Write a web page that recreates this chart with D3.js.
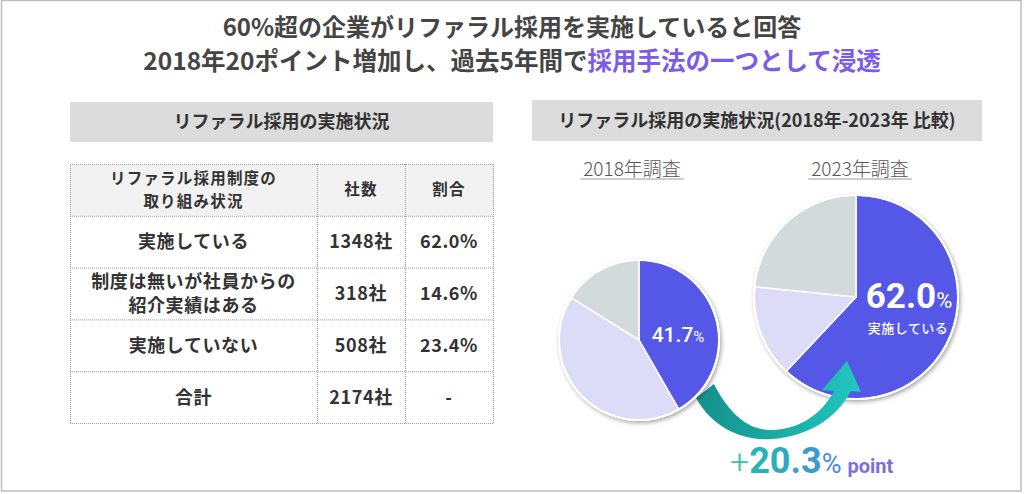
<!DOCTYPE html>
<html>
<head>
<meta charset="utf-8">
<script src="https://cdn.jsdelivr.net/npm/d3@7"></script>
<style>
  body { margin: 0; background: #fff; }
  svg { display: block; font-family: "Noto Sans CJK JP", "Noto Sans", sans-serif; }
</style>
</head>
<body>
<svg id="chart" width="1024" height="494" viewBox="0 0 1024 494"></svg>
<script>
// ---- data ----
const titleLine1 = "60%超の企業がリファラル採用を実施していると回答";
const titleLine2a = "2018年20ポイント増加し、過去5年間で";
const titleLine2b = "採用手法の一つとして浸透";

const tableTitle = "リファラル採用の実施状況";
const tableHeaders = [["リファラル採用制度の", "取り組み状況"], ["社数"], ["割合"]];
const categories = [["実施している"], ["制度は無いが社員からの", "紹介実績はある"], ["実施していない"], ["合計"]];
const companyCounts = [1348, 318, 508, 2174];
const shareLabels = ["62.0%", "14.6%", "23.4%", "-"];

const pieTitle = "リファラル採用の実施状況(2018年-2023年 比較)";
const surveyYears = ["2018年調査", "2023年調査"];
const shares2018 = [41.7, 42.2, 16.1];
const shares2023 = [62.0, 14.6, 23.4];
const sliceColors = ["#5557e7", "#dcdcf8", "#d3dadc"];

const svg = d3.select("#chart");
const W = 1024, H = 494;

// frame
svg.append("rect")
    .attr("x", 1.5).attr("y", 0.5)
    .attr("width", 1019.5).attr("height", 490.5)
    .attr("fill", "none").attr("stroke", "#bdbdbd").attr("stroke-width", 1.5);

// defs
const defs = svg.append("defs");
const shadow = defs.append("filter").attr("id", "shadow")
    .attr("x", "-20%").attr("y", "-20%").attr("width", "140%").attr("height", "140%");
shadow.append("feDropShadow")
    .attr("dx", 1.5).attr("dy", 2).attr("stdDeviation", 2)
    .attr("flood-color", "#000").attr("flood-opacity", 0.35);

const arrowGrad = defs.append("linearGradient").attr("id", "arrowGrad")
    .attr("gradientUnits", "userSpaceOnUse")
    .attr("x1", 695).attr("y1", 0).attr("x2", 860).attr("y2", 0);
arrowGrad.append("stop").attr("offset", "0%").attr("stop-color", "#14908a");
arrowGrad.append("stop").attr("offset", "100%").attr("stop-color", "#22c6c0");

const numGrad = defs.append("linearGradient").attr("id", "numGrad")
    .attr("gradientUnits", "userSpaceOnUse")
    .attr("x1", 745).attr("y1", 0).attr("x2", 845).attr("y2", 0);
numGrad.append("stop").attr("offset", "0%").attr("stop-color", "#1fbcab");
numGrad.append("stop").attr("offset", "100%").attr("stop-color", "#4a8ae2");

// ---- title ----
svg.append("text")
    .attr("x", W / 2).attr("y", 36)
    .attr("text-anchor", "middle")
    .attr("font-size", 24).attr("font-weight", 700)
    .attr("fill", "#454545")
    .text(titleLine1);

const t2 = svg.append("text")
    .attr("x", W / 2).attr("y", 70)
    .attr("text-anchor", "middle")
    .attr("font-size", 24.5).attr("font-weight", 700);
t2.append("tspan").attr("fill", "#454545").text(titleLine2a);
t2.append("tspan").attr("fill", "#7b5ce6").text(titleLine2b);

// ---- section headers ----
function sectionHeader(x0, x1, y0, y1, label) {
    svg.append("rect")
        .attr("x", x0).attr("y", y0)
        .attr("width", x1 - x0).attr("height", y1 - y0)
        .attr("fill", "#dcdcdc");
    svg.append("text")
        .attr("x", (x0 + x1) / 2).attr("y", (y0 + y1) / 2)
        .attr("dy", "0.36em")
        .attr("text-anchor", "middle")
        .attr("font-size", 18).attr("font-weight", 700)
        .attr("fill", "#333")
        .text(label);
}
sectionHeader(70, 493, 102, 142, tableTitle);
sectionHeader(532, 982, 100, 141, pieTitle);

// ---- table ----
const colEdges = [70, 317, 405, 493];
const rowY = d3.scaleBand()
    .domain(d3.range(categories.length + 1))
    .range([164, 423]);

const rows = [tableHeaders].concat(categories.map(function(c, i) {
    return [c, [companyCounts[i] + "社"], [shareLabels[i]]];
}));

const table = svg.append("g");

// header background
table.append("rect")
    .attr("x", colEdges[0]).attr("y", rowY(0))
    .attr("width", colEdges[3] - colEdges[0]).attr("height", rowY.bandwidth())
    .attr("fill", "#f2f2f2");

// cell text
rows.forEach(function(row, ri) {
    const isHead = ri === 0;
    const fs = isHead ? 15.5 : 18;
    const lh = isHead ? 23 : 24;
    row.forEach(function(lines, ci) {
        const cx = (colEdges[ci] + colEdges[ci + 1]) / 2;
        const cy = rowY(ri) + rowY.bandwidth() / 2;
        const txt = table.append("text")
            .attr("text-anchor", "middle")
            .attr("font-size", fs)
            .attr("font-weight", 700)
            .attr("letter-spacing", isHead ? 1.2 : 0.6)
            .attr("fill", "#333");
        lines.forEach(function(line, li) {
            txt.append("tspan")
                .attr("x", cx)
                .attr("y", cy + (li - (lines.length - 1) / 2) * lh)
                .attr("dy", "0.36em")
                .text(line);
        });
    });
});

// dotted grid
const gridStyle = function(sel) {
    sel.attr("stroke", "#9e9e9e").attr("stroke-width", 1).attr("stroke-dasharray", "1,1");
};
d3.range(categories.length + 2).forEach(function(i) {
    const y = i <= categories.length ? rowY(i) : rowY.range()[1];
    table.append("line")
        .attr("x1", colEdges[0]).attr("x2", colEdges[3])
        .attr("y1", y + 0.5).attr("y2", y + 0.5)
        .call(gridStyle);
});
colEdges.forEach(function(x) {
    table.append("line")
        .attr("x1", x + 0.5).attr("x2", x + 0.5)
        .attr("y1", rowY.range()[0]).attr("y2", rowY.range()[1])
        .call(gridStyle);
});

// ---- pies ----
const pie = d3.pie().sort(null).value(function(d) { return d; });

function drawPie(cx, cy, r, values) {
    const g = svg.append("g").attr("transform", "translate(" + cx + "," + cy + ")");
    const arc = d3.arc().innerRadius(0).outerRadius(r);
    g.append("circle").attr("r", r + 1).attr("fill", "#fff").attr("filter", "url(#shadow)");
    g.selectAll("path")
        .data(pie(values))
        .join("path")
        .attr("d", arc)
        .attr("fill", function(d, i) { return sliceColors[i]; })
        .attr("stroke", "#fff")
        .attr("stroke-width", 1.5)
        .attr("stroke-linejoin", "round");
    g.append("circle").attr("r", r).attr("fill", "none")
        .attr("stroke", "#fff").attr("stroke-width", 2);
    return g;
}

// survey labels with underline
const labelX = [632, 860];
surveyYears.forEach(function(label, i) {
    const t = svg.append("text")
        .attr("x", labelX[i]).attr("y", 176)
        .attr("text-anchor", "middle")
        .attr("font-size", 19).attr("font-weight", 300)
        .attr("fill", "#555")
        .text(label);
    const w = t.node().getComputedTextLength();
    svg.append("line")
        .attr("x1", labelX[i] - w / 2 - 3).attr("x2", labelX[i] + w / 2 + 3)
        .attr("y1", 179).attr("y2", 179)
        .attr("stroke", "#9a9a9a").attr("stroke-width", 1);
});

// 2023 pie (drawn under the arrow head)
const p2023 = drawPie(856, 297, 102, shares2023);
const l23 = p2023.append("text")
    .attr("x", 53).attr("y", 11)
    .attr("text-anchor", "middle")
    .attr("fill", "#fff");
l23.append("tspan").attr("font-size", 35).attr("font-weight", 700).attr("font-family", "Roboto, sans-serif")
    .text(shares2023[0].toFixed(1));
l23.append("tspan").attr("font-size", 22).attr("font-weight", 400).attr("font-family", "Roboto, sans-serif")
    .text("%");
p2023.append("text")
    .attr("x", 52).attr("y", 36)
    .attr("text-anchor", "middle")
    .attr("font-size", 13).attr("font-weight", 500)
    .attr("letter-spacing", 0.5)
    .attr("fill", "#fff")
    .text(categories[0][0]);

// curved arrow
const arrowPath = d3.path();
arrowPath.moveTo(696, 398);
arrowPath.bezierCurveTo(714, 430, 745, 441, 772, 439);
arrowPath.bezierCurveTo(805, 437, 836, 420, 851, 391);
arrowPath.lineTo(861, 392);
arrowPath.lineTo(847, 361);
arrowPath.lineTo(822, 390);
arrowPath.lineTo(834, 391);
arrowPath.bezierCurveTo(822, 414, 800, 429, 772, 430);
arrowPath.bezierCurveTo(748, 431, 728, 412, 714, 384);
arrowPath.closePath();
svg.append("path")
    .attr("d", arrowPath.toString())
    .attr("fill", "url(#arrowGrad)");

// 2018 pie
const p2018 = drawPie(639, 340, 80, shares2018);
const l18 = p2018.append("text")
    .attr("x", 39).attr("y", 2)
    .attr("text-anchor", "middle")
    .attr("fill", "#fff");
l18.append("tspan").attr("font-size", 21).attr("font-weight", 500).attr("font-family", "Roboto, sans-serif")
    .text(shares2018[0].toFixed(1));
l18.append("tspan").attr("font-size", 15).attr("font-weight", 400).attr("font-family", "Roboto, sans-serif")
    .text("%");

// ---- difference label ----
const diff = (shares2023[0] - shares2018[0]).toFixed(1);
const dl = svg.append("text")
    .attr("x", 730).attr("y", 473)
    .attr("font-family", "Roboto, sans-serif");
dl.append("tspan").attr("font-size", 34).attr("font-weight", 300).attr("fill", "#3cbfae").text("+");
dl.append("tspan").attr("font-size", 36).attr("font-weight", 700).attr("fill", "url(#numGrad)").text(diff);
dl.append("tspan").attr("font-size", 27).attr("font-weight", 400).attr("fill", "#4a8ae2").text("%");
dl.append("tspan").attr("dx", 6).attr("font-size", 20).attr("font-weight", 700).attr("fill", "#7a6ee2").text("point");
</script>
</body>
</html>
